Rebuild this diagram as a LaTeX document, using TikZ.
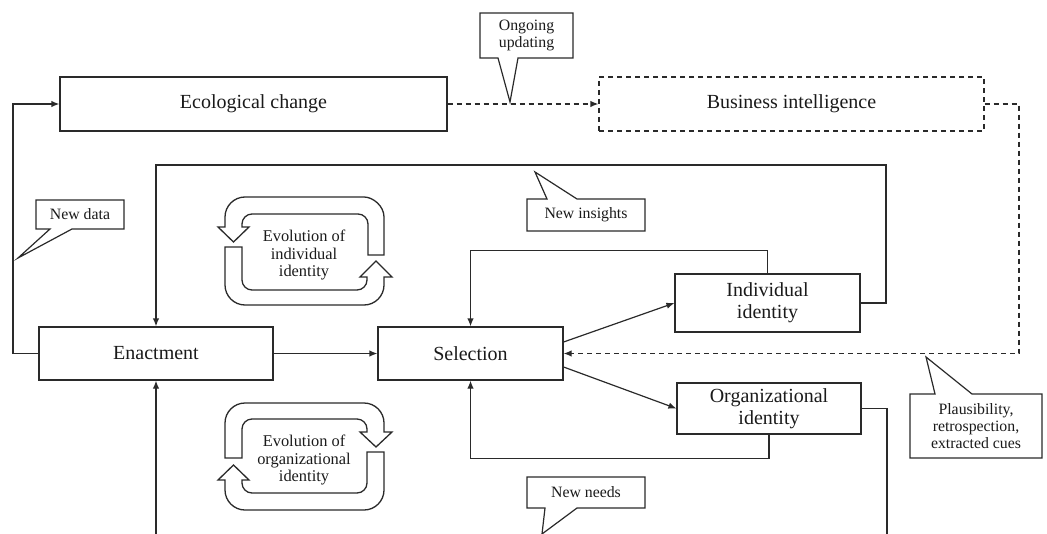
\documentclass[tikz,border=0pt]{standalone}
\usepackage{fontspec}
\setmainfont{Liberation Serif}
\usetikzlibrary{arrows.meta,calc}
\definecolor{lc}{HTML}{2A2A2A}
\definecolor{txt}{HTML}{1A1A1A}
\begin{document}
\begin{tikzpicture}[x=0.5pt,y=-0.5pt,line width=0.6pt,draw=lc]
\tikzset{
 box/.style={draw=lc, rectangle, align=center, inner sep=0pt, font=\fontsize{10}{11}\selectfont, text=txt},
 callout/.style={draw=lc, fill=white, line width=0.6pt},
 small/.style={font=\fontsize{7.9}{8.4}\selectfont, align=center, text=txt, inner sep=0pt},
 cyc/.style={font=\fontsize{8.2}{8.6}\selectfont, align=center, text=txt, inner sep=0pt},
 arr/.style={-{Latex[length=4pt,width=3.2pt]}},
 dashline/.style={dash pattern=on 2.5pt off 2pt},
 band/.style={draw=lc, fill=white, line width=0.65pt, line join=miter},
}
\useasboundingbox (0,0) rectangle (1047,534);

% main boxes
\node[box, minimum width=193.5pt, minimum height=27pt] (eco) at (253.5,104) {Ecological change};
\node[box, dashline, minimum width=192.5pt, minimum height=27pt] (bi) at (791.5,104) {Business intelligence};
\node[box, minimum width=117pt, minimum height=26.5pt] (enact) at (156,353.5) {Enactment};
\node[box, minimum width=92.5pt, minimum height=26.5pt] (sel) at (470.5,353.5) {Selection};
\node[box, minimum width=92.5pt, minimum height=29pt] (indiv) at (767.5,303) {Individual\\identity};
\node[box, minimum width=92pt, minimum height=25.5pt] (org) at (769,408.5) {Organizational\\identity};

\coordinate (bot) at (156,534);
\coordinate (orgbot) at (887,534);

% connectors
\draw[arr] (enact.west) -- (13,353.5) |- (eco.west);
\draw[arr, dashline] (eco.east) -- (bi.west);
\draw[arr, dashline] (bi.east) -- (1019,104) |- (sel.east);
\draw[arr] (enact.east) -- (sel.west);
\draw[arr] ($(sel.east)+(0,-11.5)$) -- (indiv.west);
\draw[arr] ($(sel.east)+(0,13.5)$) -- (org.west);
\draw[arr] (indiv.north) -- ++(0,-23) -| (sel.north);
\draw[arr] (org.south) -- ++(0,24) -| (sel.south);
\draw[arr] (indiv.east) -| (886,165) -| (enact.north);
\draw (org.east) -| (orgbot);
\draw[arr] (bot) -- (enact.south);

% callouts
\draw[callout] (480,13) -- (573,13) -- (573,58) -- (518,58) -- (510,102) -- (498,58) -- (480,58) -- cycle;
\node[small] (ongo) at (526.5,35.5) {Ongoing\\updating};

\draw[callout] (36,200) -- (124,200) -- (124,229) -- (72,229) -- (18,258) -- (50,229) -- (36,229) -- cycle;
\node[small] (newdata) at (80,214.5) {New data};

\draw[callout] (527,199) -- (547,199) -- (535,172) -- (577,199) -- (645,199) -- (645,231) -- (527,231) -- cycle;
\node[small] (newins) at (586,215) {New insights};

\draw[callout] (910,394) -- (935,394) -- (926,357) -- (972,394) -- (1042,394) -- (1042,458) -- (910,458) -- cycle;
\node[small] (plaus) at (976,426) {Plausibility,\\retrospection,\\extracted cues};

\draw[callout] (527,477) -- (645,477) -- (645,508) -- (577,508) -- (542,534) -- (545,508) -- (527,508) -- cycle;
\node[small] (newneeds) at (586,492.5) {New needs};

% cycle 1 (individual identity)
\draw[band] (368,255) -- (384,255) -- (384,217) .. controls (384,206) and (373,197) .. (364,197) -- (245,197) .. controls (234,197) and (225,206) .. (225,217) -- (225,227) -- (218,227) -- (233.5,242) -- (249,227) -- (242,227) -- (242,224) .. controls (242,218.5) and (246.5,214) .. (252,214) -- (358,214) .. controls (363.5,214) and (368,218.5) .. (368,224) -- cycle;
\draw[band] (225,247) -- (242,247) -- (242,280) .. controls (242,285.5) and (246.5,290) .. (252,290) -- (357,290) .. controls (362.5,290) and (367,285.5) .. (367,280) -- (367,277) -- (360,277) -- (376,261) -- (392,277) -- (384,277) -- (384,285) .. controls (384,296) and (375,305) .. (364,305) -- (245,305) .. controls (234,305) and (225,296) .. (225,285) -- cycle;
\node[cyc] (evo1) at (304,255) {Evolution of\\individual\\identity};

% cycle 2 (organizational identity)
\draw[band] (225,458) -- (225,423) .. controls (225,412) and (234,403) .. (245,403) -- (364,403) .. controls (375,403) and (384,412) .. (384,423) -- (384,432) -- (392,432) -- (376,447) -- (360,432) -- (367,432) -- (367,429) .. controls (367,423.5) and (362.5,419) .. (357,419) -- (252,419) .. controls (246.5,419) and (242,423.5) .. (242,429) -- (242,458) -- cycle;
\draw[band] (367,452) -- (384,452) -- (384,490) .. controls (384,501) and (375,510) .. (364,510) -- (245,510) .. controls (234,510) and (225,501) .. (225,490) -- (225,480) -- (218,480) -- (233.5,465) -- (249,480) -- (242,480) -- (242,483) .. controls (242,488.5) and (246.5,493) .. (252,493) -- (357,493) .. controls (362.5,493) and (367,488.5) .. (367,483) -- cycle;
\node[cyc] (evo2) at (304,460) {Evolution of\\organizational\\identity};
\end{tikzpicture}
\end{document}
